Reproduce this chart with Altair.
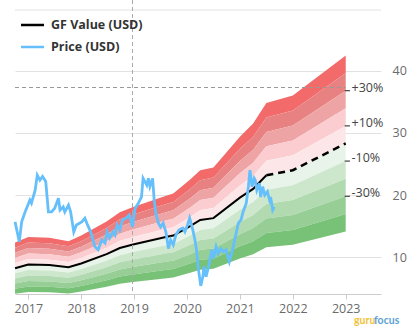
import altair as alt
import pandas as pd

# ---------------- data ----------------
gf_years = [2016.75, 2017.0, 2017.4, 2017.76, 2018.0, 2018.48, 2018.73, 2018.98,
            2019.62, 2019.74, 2020.06, 2020.25, 2020.5, 2021.0, 2021.25, 2021.5,
            2022.0, 2023.0]
gf_values = [8.25, 8.85, 8.75, 8.4, 9.0, 10.5, 11.5, 12.05,
             13.3, 13.5, 15.0, 16.0, 16.3, 19.6, 21.0, 23.2,
             24.0, 28.3]
estimate_start = 2021.5

price_years = [2016.75, 2016.83, 2016.875, 2016.94, 2017.03, 2017.06, 2017.13, 2017.17,
               2017.22, 2017.27, 2017.33, 2017.38, 2017.44, 2017.50, 2017.57, 2017.60,
               2017.66, 2017.69, 2017.76, 2017.80, 2017.86, 2017.91, 2018.01, 2018.07,
               2018.12, 2018.18, 2018.26, 2018.32, 2018.39, 2018.45, 2018.49, 2018.54,
               2018.60, 2018.64, 2018.68, 2018.73, 2018.78, 2018.85, 2018.91, 2018.97,
               2019.02, 2019.08, 2019.14, 2019.17, 2019.24, 2019.27, 2019.30, 2019.35,
               2019.38, 2019.41, 2019.46, 2019.50, 2019.55, 2019.60, 2019.65, 2019.69,
               2019.74, 2019.79, 2019.85, 2019.92, 2019.96, 2020.01, 2020.05, 2020.11,
               2020.15, 2020.18, 2020.21, 2020.26, 2020.30, 2020.32, 2020.36, 2020.40,
               2020.47, 2020.50, 2020.55, 2020.59, 2020.64, 2020.69, 2020.74, 2020.80,
               2020.86, 2020.93, 2020.97, 2021.02, 2021.06, 2021.12, 2021.16, 2021.19,
               2021.23, 2021.27, 2021.29, 2021.32, 2021.37, 2021.39, 2021.43, 2021.47,
               2021.52, 2021.56, 2021.58, 2021.62, 2021.65]
price_values = [15.7, 12.5, 15.7, 17.3, 19.2, 18.7, 20.8, 23.2,
                22.4, 23.0, 22.2, 17.3, 17.3, 17.9, 19.5, 17.6,
                18.1, 17.3, 18.4, 17.3, 14.1, 15.2, 15.7, 16.3,
                15.2, 14.1, 11.7, 11.2, 12.8, 12.3, 14.1, 13.1,
                14.1, 13.6, 15.2, 14.4, 16.0, 16.3, 16.8, 14.9,
                17.9, 18.7, 19.7, 22.7, 21.6, 22.7, 21.4, 22.7,
                19.2, 17.1, 15.5, 14.9, 15.5, 14.1, 11.4, 12.8,
                12.0, 13.6, 14.4, 14.7, 14.1, 15.2, 16.3, 14.4,
                12.8, 11.2, 8.5, 5.4, 6.9, 8.5, 6.9, 8.2,
                11.2, 9.8, 11.7, 10.6, 11.4, 10.9, 11.2, 9.3,
                11.2, 13.9, 15.5, 16.0, 17.3, 18.7, 21.35, 24.0,
                21.35, 22.7, 22.4, 20.8, 21.9, 19.7, 21.35, 20.0,
                20.55, 19.2, 19.7, 17.6, 18.1]

band_edges = [1.5, 1.4, 1.3, 1.2, 1.1, 1.0, 0.9, 0.8, 0.7, 0.6, 0.5]
band_colors = ["#f26a69", "#e88282", "#eea4a4", "#fbcdd0", "#fde6e8",
               "#e8f4e9", "#cde7cd", "#b2dab1", "#96ce95", "#78c277"]
band_label_text = ["+30%", "+10%", "-10%", "-30%"]
band_label_mult = [1.3, 1.1, 0.9, 0.7]

x_ticks = [2017, 2018, 2019, 2020, 2021, 2022, 2023]
y_ticks = [10, 20, 30, 40]
crosshair_year = 2018.97
crosshair_value = 37.3

legend_names = ["GF Value (USD)", "Price (USD)"]
legend_colors = ["#000000", "#64bffa"]

FONT = "Open Sans"
X_DOMAIN = [2016.749, 2023.667]
Y_DOMAIN = [4.1, 51.37]

# ---------------- tables ----------------
band_rows = []
for i in range(len(band_colors)):
    for yr, v in zip(gf_years, gf_values):
        band_rows.append({"band": i, "year": yr, "hi": v * band_edges[i], "lo": v * band_edges[i + 1]})
bands_df = pd.DataFrame(band_rows)

gf_df = pd.DataFrame({"year": gf_years, "gf": gf_values})
gf_solid = gf_df[gf_df.year <= estimate_start]
gf_dash = gf_df[gf_df.year >= estimate_start]
price_df = pd.DataFrame({"year": price_years, "price": price_values})

gf_end = gf_values[-1]
end_year = gf_years[-1]
lab_df = pd.DataFrame({"label": band_label_text,
                       "v": [gf_end * m for m in band_label_mult],
                       "x0": [end_year - 0.02] * 4,
                       "x1": [end_year + 0.08] * 4,
                       "xt": [end_year + 0.11] * 4})

xs = alt.Scale(domain=X_DOMAIN, nice=False, zero=False)
ys = alt.Scale(domain=Y_DOMAIN, nice=False, zero=False)

one = pd.DataFrame({"a": [0]})

bands = alt.Chart(bands_df).mark_area(interpolate="linear").encode(
    x=alt.X("year:Q", scale=xs, axis=alt.Axis(
        values=x_ticks, format="d", grid=False, tickSize=5, tickColor="#cccccc",
        domainColor="#cccccc", labelColor="#6b6b6b", labelFontSize=12.5, labelFont=FONT,
        labelPadding=3, title=None)),
    y=alt.Y("hi:Q", scale=ys, stack=None, axis=alt.Axis(
        orient="right", values=y_ticks, grid=True, gridColor="#e2e2e2", ticks=False,
        domain=False, labelPadding=11, labelColor="#6b6b6b", labelFontSize=12.5,
        labelFont=FONT, title=None)),
    y2="lo:Q",
    color=alt.Color("band:N", scale=alt.Scale(domain=list(range(len(band_colors))), range=band_colors),
                    legend=None),
    order=alt.Order("band:Q"),
)

top_line = alt.Chart(one).mark_rule(color="#e2e2e2", strokeWidth=1).encode(
    x=alt.value(0), x2=alt.value(366), y=alt.value(10))

gf_line = alt.Chart(gf_solid).mark_line(color="#000000", strokeWidth=2).encode(
    x=alt.X("year:Q", scale=xs), y=alt.Y("gf:Q", scale=ys))
gf_line_dash = alt.Chart(gf_dash).mark_line(color="#000000", strokeWidth=2.5, strokeDash=[7, 5]).encode(
    x=alt.X("year:Q", scale=xs), y=alt.Y("gf:Q", scale=ys))

price_line = alt.Chart(price_df).mark_line(color="#64bffa", strokeWidth=2.8).encode(
    x=alt.X("year:Q", scale=xs), y=alt.Y("price:Q", scale=ys))

vline = alt.Chart(pd.DataFrame({"x": [crosshair_year]})).mark_rule(
    color="#aaaaaa", strokeWidth=1, strokeDash=[4, 3]).encode(
    x=alt.X("x:Q", scale=xs), y=alt.value(0), y2=alt.value(294))
hline = alt.Chart(pd.DataFrame({"y": [crosshair_value], "x0": [X_DOMAIN[0]], "x1": [end_year]})).mark_rule(
    color="#999999", strokeWidth=1, strokeDash=[4, 3]).encode(
    y=alt.Y("y:Q", scale=ys), x=alt.X("x0:Q", scale=xs), x2="x1:Q")

lab_ticks = alt.Chart(lab_df).mark_rule(color="#444444", strokeWidth=1.2).encode(
    x=alt.X("x0:Q", scale=xs), x2="x1:Q", y=alt.Y("v:Q", scale=ys))
lab_text = alt.Chart(lab_df).mark_text(align="left", baseline="middle", dy=-3, font=FONT,
                                        fontSize=12.5, color="#444444").encode(
    x=alt.X("xt:Q", scale=xs), y=alt.Y("v:Q", scale=ys), text="label:N")

legend_layers = []
for i, (name, col) in enumerate(zip(legend_names, legend_colors)):
    yy = 25 + 22 * i
    legend_layers.append(alt.Chart(one).mark_rule(color=col, strokeWidth=2.5).encode(
        x=alt.value(6), x2=alt.value(29), y=alt.value(yy)))
    legend_layers.append(alt.Chart(one).mark_text(align="left", baseline="middle", font=FONT,
                                                   fontSize=12.5, fontWeight="bold", color="#333333").encode(
        x=alt.value(36), y=alt.value(yy), text=alt.value(name)))

logo1 = alt.Chart(one).mark_text(align="left", baseline="middle", font="Lato", fontSize=10.5,
                                 fontWeight="bold", color="#f0c23a").encode(
    x=alt.value(339), y=alt.value(321), text=alt.value("guru"))
logo2 = alt.Chart(one).mark_text(align="left", baseline="middle", font="Lato", fontSize=10.5,
                                 fontWeight="bold", color="#5d9fd6").encode(
    x=alt.value(359), y=alt.value(321), text=alt.value("focus"))

chart = alt.layer(
    bands, top_line, gf_line, gf_line_dash, vline, hline, price_line,
    lab_ticks, lab_text, *legend_layers, logo1, logo2
).properties(
    width=366, height=294,
    padding={"left": 15, "top": 0, "right": 31, "bottom": 36},
    autosize=alt.AutoSizeParams(type="none"),
).configure_view(stroke=None)

chart.save("out.html", embed_options={"renderer": "svg", "actions": False})
